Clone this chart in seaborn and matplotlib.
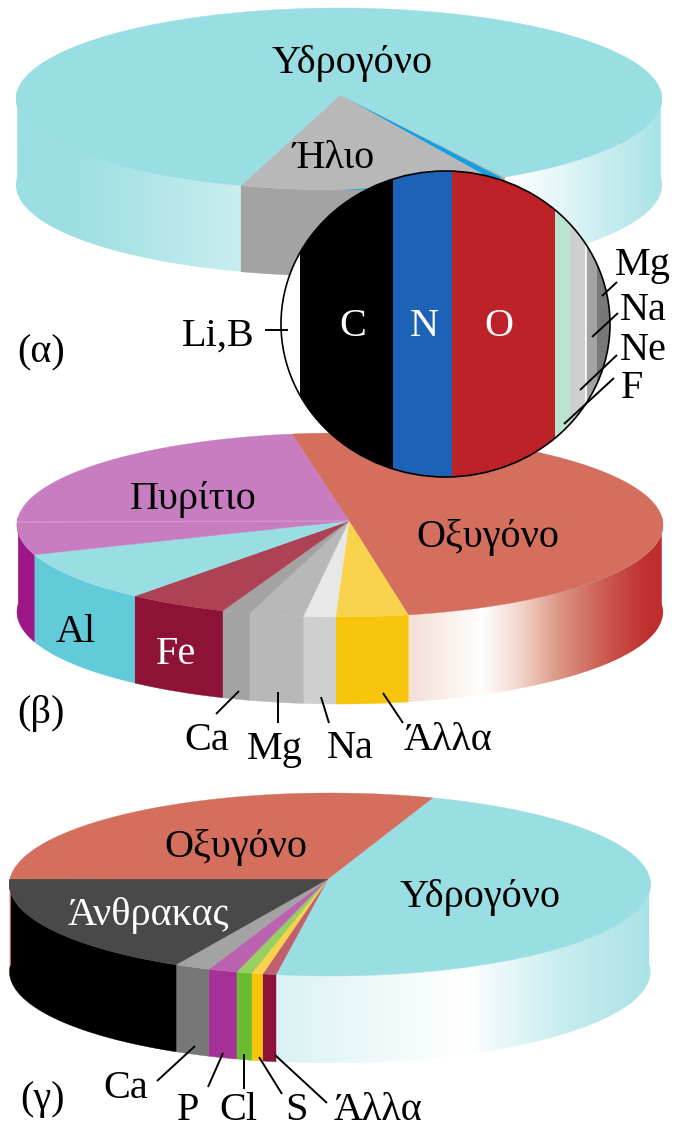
import numpy as np
import matplotlib
matplotlib.use("Agg")
import matplotlib.pyplot as plt
from matplotlib.colors import LinearSegmentedColormap
from matplotlib.patches import Ellipse, Polygon
import seaborn as sns

# Composition of the Sun, in percent of the disc
sun_names = ["trace", "other", "Ήλιο", "Υδρογόνο"]
sun_values = [0.2, 0.55, 12.75, 86.5]

# Composition of the "other" band of the Sun, in percent of the inset's width
inset_names = ["Li,B", "C", "N", "O", "F", "Ne", "Na", "Mg"]
inset_values = [5.8, 28.3, 17.9, 31.3, 4.6, 4.9, 3.3, 3.9]

# Composition of the Earth's crust, in percent
crust_names = ["Οξυγόνο", "Άλλα", "Na", "Mg", "Ca", "Fe", "Al", "Πυρίτιο"]
crust_values = [49.0, 3.6, 1.6, 2.7, 1.4, 5.05, 8.8, 27.85]

# Composition of the human body, in percent
body_names = ["Υδρογόνο", "Άλλα", "S", "Cl", "P", "Ca", "Άνθρακας", "Οξυγόνο"]
body_values = [47.5, 0.67, 0.56, 0.78, 1.47, 1.8, 18.0, 29.22]

sns.set_theme(style="white")
plt.rcParams["font.family"] = ["Liberation Serif", "DejaVu Serif"]

W, H = 677, 1134
fig = plt.figure(figsize=(W / 100, H / 100), dpi=100)
ax = fig.add_axes([0, 0, 1, 1])
ax.set_axis_off()

VISIBLE_SIDE = (-5.0, 185.0)


def rim(cx, cy, rx, ry, t):
    t = np.radians(t)
    return cx + rx * np.cos(t), cy + ry * np.sin(t)


def draw_disc(geom, apex, start, values, tops, sides, base):
    """Draw a tilted disc. Angles run clockwise on screen; a side entry is a
    colour or a list of (fraction across the disc, colour) gradient stops."""
    cx, cy, rx, ry, depth = geom
    angles = start + np.cumsum([0.0] + list(values)) * 3.6
    for a0, a1, top, side in zip(angles[:-1], angles[1:], tops, sides):
        for shift in (0.0, -360.0, 360.0):
            lo = max(a0 + shift, VISIBLE_SIDE[0])
            hi = min(a1 + shift, VISIBLE_SIDE[1])
            if hi <= lo:
                continue
            t = np.linspace(lo, hi, 120)
            xs, ys = rim(cx, cy, rx, ry, t)
            outline = np.column_stack([np.r_[xs, xs[::-1]], np.r_[ys, ys[::-1] + depth]])
            if isinstance(side, str):
                ax.add_patch(Polygon(outline, closed=True, facecolor=side, edgecolor=side,
                                     lw=0.3, zorder=base))
            else:
                cmap = LinearSegmentedColormap.from_list("side", side)
                im = ax.imshow(np.linspace(0, 1, 1024)[None, :], cmap=cmap, vmin=0, vmax=1,
                               extent=(cx - rx, cx + rx, cy + ry + depth, cy - ry),
                               aspect="auto", interpolation="bilinear", zorder=base)
                im.set_clip_path(Polygon(outline, closed=True, transform=ax.transData))
        t = np.linspace(a0, a1, max(3, int((a1 - a0) * 2)))
        xs, ys = rim(cx, cy, rx, ry, t)
        wedge = np.column_stack([np.r_[apex[0], xs], np.r_[apex[1], ys]])
        ax.add_patch(Polygon(wedge, closed=True, facecolor=top, edgecolor=top, lw=0.25,
                             zorder=base + 0.2))


def leader(x0, y0, x1, y1):
    ax.plot([x0, x1], [y0, y1], color="black", lw=1.4, solid_capstyle="butt", zorder=7)


def label(x, y, s, color="black", size=29):
    ax.text(x, y + 3, s, color=color, fontsize=size, ha="center", va="center", zorder=8)


cyan_top = "#99DEE3"
sun_geom = (339, 99, 323, 91, 86)
crust_geom = (340, 525, 323, 92, 87)
body_geom = (330, 884.5, 320.5, 91.5, 87)

# Crust disc
draw_disc(crust_geom, (349, 521), -98.6, crust_values,
          tops=["#D46F5E", "#F8D34B", "#E8E8E8", "#B8B8B8", "#A3A3A3", "#AC4254", cyan_top, "#C87DC0"],
          sides=[[(0, "#F4DCD3"), (0.60, "#F4DCD3"), (0.72, "#FFFFFF"), (0.78, "#F2D5CB"),
                  (0.84, "#DD9785"), (0.92, "#C9544A"), (0.98, "#BF2E2E"), (1, "#BF2E2E")],
                 "#F7C50C", "#CFCFCF", "#B8B8B8", "#A3A3A3", "#8E1235", "#62CBD9", "#9D1788"],
          base=1)
ax.plot([17, 349], [522, 521], color="#D79ACF", lw=0.8, zorder=1.5)

# Body disc
draw_disc(body_geom, (328, 879), -71.3, body_values,
          tops=[cyan_top, "#C0606E", "#F8D34B", "#98CF61", "#BB63B0", "#A3A3A3", "#494949", "#D46F5E"],
          sides=[[(0, "#DAF2F4"), (0.415, "#DAF2F4"), (0.71, "#FFFFFF"), (0.86, "#C9EDEF"),
                  (1, "#A9E3E7")],
                 "#8E1235", "#F7C50C", "#6BBD2F", "#A53197", "#777777", "#000000", "#D46F5E"],
          base=2)

# Sun disc
draw_disc(sun_geom, (340, 95), 59.1, sun_values,
          tops=["#B8B8B8", "#12A0E0", "#B8B8B8", cyan_top],
          sides=["#A3A3A3", "#A3A3A3", "#A3A3A3",
                 [(0, "#9BDEE3"), (0.08, "#9BDEE3"), (0.35, "#C9EEEF"), (0.35, "#FFFFFF"),
                  (0.77, "#FFFFFF"), (1, "#A8E3E7")]],
          base=3)

# Thin blue glint along the front of the helium wedge
t = np.linspace(82, 90, 40)
gx, gy = rim(*sun_geom[:4], t)
ax.fill_between(gx, gy - 0.5, gy - 0.5 - np.linspace(2.2, 0, 40), color="#12A0E0",
                lw=0, zorder=3.3)

# Inset: the trace elements of the Sun, as vertical bands in an ellipse
icx, icy, irx, iry = 445.5, 324, 164.5, 153
inset_colors = sns.color_palette(["#FFFFFF", "#000000", "#1C63B7", "#BE2229", "#B9E5D0",
                                  "#CFCFCF", "#A3A3A3", "#787878"])
ax.add_patch(Ellipse((icx, icy), 2 * irx, 2 * iry, facecolor="white", edgecolor="none", zorder=5))
clip = Ellipse((icx, icy), 2 * irx, 2 * iry, transform=ax.transData)
scale = 2 * irx / sum(inset_values)
edges = (icx - irx) + np.cumsum([0.0] + inset_values) * scale
bars = ax.bar(edges[:-1], 2 * iry, width=np.diff(edges), bottom=icy - iry, align="edge",
              color=inset_colors, lw=0, zorder=5.1)
for bar in bars:
    bar.set_clip_path(clip)
divider, = ax.plot([edges[6], edges[6]], [icy - iry, icy + iry], color="white", lw=1.2, zorder=5.2)
divider.set_clip_path(clip)
ax.add_patch(Ellipse((icx, icy), 2 * irx, 2 * iry, facecolor="none", edgecolor="black", lw=1.2,
                     zorder=5.3))

# Leader lines
for seg in [(265, 330, 288, 330), (617, 282, 602, 296), (618, 313, 592, 337),
            (617, 355, 580, 390), (614, 378, 564, 424),
            (239, 691, 216, 714), (278, 692, 278, 723), (321, 697, 329, 723), (383, 693, 403, 723),
            (195, 1046, 157, 1081), (223, 1053, 208, 1087), (244, 1054, 244, 1089),
            (259, 1057, 282, 1094), (275, 1055, 327, 1103)]:
    leader(*seg)

# Labels, Sun
label(352, 60, sun_names[3])
label(334, 155, sun_names[2])
label(41, 350, "(α)")
label(218, 333, inset_names[0])
for name, x in zip(inset_names[1:4], (353, 424, 499)):
    label(x, 323, name, color="white")
for name, x, y in zip(inset_names[4:], (632, 643, 643, 643), (385, 347, 307, 263)):
    label(x, y, name)

# Labels, crust
label(488, 535, crust_names[0])
label(193, 497, crust_names[7])
label(76, 629, crust_names[6])
label(176, 651, crust_names[5], color="white")
label(207, 738, crust_names[4])
label(275, 746, crust_names[3])
label(350, 745, crust_names[2])
label(448, 738, crust_names[1])
label(41, 710, "(β)")

# Labels, body
label(236, 845, body_names[7])
label(480, 895, body_names[0])
label(148, 913, body_names[6], color="white")
label(126, 1085, body_names[5])
label(188, 1108, body_names[4])
label(238, 1108, body_names[3])
label(297, 1108, body_names[2])
label(378, 1108, body_names[1])
label(43, 1097, "(γ)")

ax.set_xlim(0, W)
ax.set_ylim(H, 0)
fig.savefig("out.png", dpi=100, facecolor="white")
